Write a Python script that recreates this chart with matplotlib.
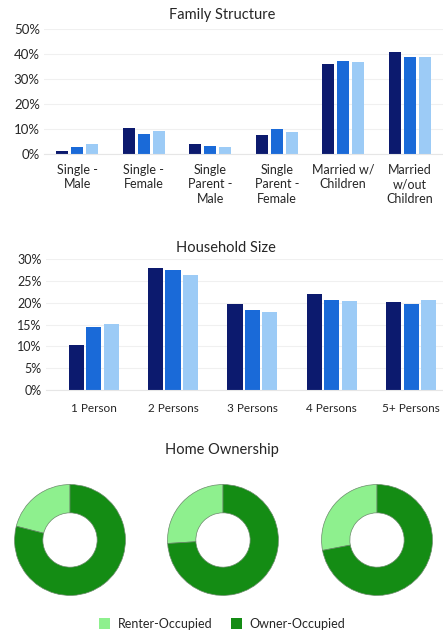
import matplotlib
matplotlib.use("Agg")
import matplotlib.pyplot as plt
import numpy as np
from matplotlib.patches import Patch
from matplotlib.ticker import PercentFormatter

plt.rcParams['font.family'] = ['Lato', 'DejaVu Sans']

# --- data ---
family_cats = ["Single -\nMale", "Single -\nFemale", "Single\nParent -\nMale",
               "Single\nParent -\nFemale", "Married w/\nChildren", "Married\nw/out\nChildren"]
family_s1 = [1.3, 10.5, 4.1, 7.6, 35.9, 40.8]
family_s2 = [2.9, 8.1, 3.1, 10.1, 37.3, 38.9]
family_s3 = [4.0, 9.2, 2.8, 8.7, 36.9, 38.7]

size_cats = ["1 Person", "2 Persons", "3 Persons", "4 Persons", "5+ Persons"]
size_s1 = [10.3, 28.0, 19.8, 21.9, 20.2]
size_s2 = [14.4, 27.5, 18.4, 20.5, 19.7]
size_s3 = [15.2, 26.4, 17.9, 20.4, 20.6]

own_labels = ["Renter-Occupied", "Owner-Occupied"]
renter = [21, 26, 28]
owner = [79, 74, 72]

BLUES = ["#0c1a6e", "#1a6ad8", "#9ccbf6"]
GREENS = ["#8ef08e", "#148c14"]
TXT = "#262626"
W, H = 443, 632

fig = plt.figure(figsize=(W / 100, H / 100), dpi=100)


def px_axes(x0, y0, x1, y1):
    # pixel box (top-left origin) -> figure axes
    return fig.add_axes([x0 / W, 1 - y1 / H, (x1 - x0) / W, (y1 - y0) / H])


def style_bar_axes(ax, ymax, step, fs):
    ax.set_ylim(0, ymax)
    ax.set_yticks(np.arange(0, ymax + 0.01, step))
    ax.yaxis.set_major_formatter(PercentFormatter(decimals=0))
    for s in ["top", "right", "left"]:
        ax.spines[s].set_visible(False)
    ax.spines["bottom"].set_color("#e6e6e6")
    ax.tick_params(length=0, labelsize=fs, colors=TXT)
    ax.grid(axis="y", color="#f0f0f0", lw=0.8)
    ax.set_axisbelow(True)


# Family Structure
ax1 = px_axes(44, 29, 443, 154)
x = np.arange(len(family_cats))
for i, vals in enumerate([family_s1, family_s2, family_s3]):
    ax1.bar(x + (i - 1) * 0.225, vals, width=0.18, color=BLUES[i])
ax1.set_xlim(-0.5, 5.5)
style_bar_axes(ax1, 50, 10, 9.5)
ax1.set_xticks(x)
ax1.set_xticklabels(family_cats, fontsize=9, linespacing=1.25)
ax1.tick_params(axis="x", pad=7)
ax1.tick_params(axis="y", pad=3)
fig.text(222 / W, 1 - 15 / H, "Family Structure", ha="center", va="center",
         fontsize=10.5, color=TXT)

# Household Size
ax2 = px_axes(46, 259, 443, 390)
x2 = np.arange(len(size_cats))
for i, vals in enumerate([size_s1, size_s2, size_s3]):
    ax2.bar(x2 + (i - 1) * 0.22, vals, width=0.19, color=BLUES[i])
ax2.set_xlim(-0.6, 4.4)
style_bar_axes(ax2, 30, 5, 9)
ax2.set_xticks(x2)
ax2.set_xticklabels(size_cats, fontsize=8.5)
ax2.tick_params(axis="x", pad=9)
ax2.tick_params(axis="y", pad=3)
fig.text(226 / W, 1 - 248 / H, "Household Size", ha="center", va="center",
         fontsize=10.5, color=TXT)

# Home Ownership donuts
fig.text(222 / W, 1 - 450 / H, "Home Ownership", ha="center", va="center",
         fontsize=10.5, color=TXT)
for cx, r, o in zip([70, 223, 377], renter, owner):
    ax = px_axes(cx - 56, 540 - 56, cx + 56, 540 + 56)
    ax.pie([r, o], colors=GREENS, startangle=90, counterclock=True,
           wedgeprops=dict(width=0.51, edgecolor="#6a8a6a", linewidth=0.5))
    ax.set_xlim(-1.01, 1.01)
    ax.set_ylim(-1.01, 1.01)

handles = [Patch(facecolor=c, label=l) for c, l in zip(GREENS, own_labels)]
fig.legend(handles=handles, loc="center", bbox_to_anchor=(222 / W, 1 - 624 / H),
           ncol=2, frameon=False, fontsize=9, handlelength=0.9, handleheight=1.0,
           columnspacing=1.5, handletextpad=0.6, labelcolor=TXT)

fig.savefig("out.png", dpi=100)
